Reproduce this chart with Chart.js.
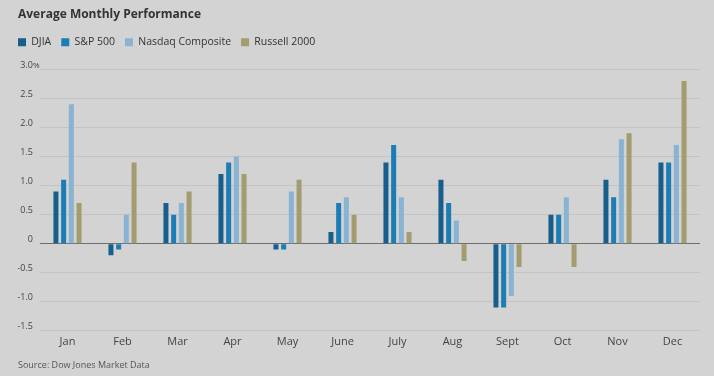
<!DOCTYPE html>
<html>
<head>
<meta charset="utf-8">
<script src="https://cdn.jsdelivr.net/npm/chart.js@4.4.1/dist/chart.umd.min.js"></script>
<style>
  html, body { margin: 0; padding: 0; background: #d3d3d3; }
  #wrap { width: 714px; height: 376px; }
</style>
</head>
<body>
<div id="wrap"><canvas id="perfChart" width="714" height="376"></canvas></div>
<script>
const months = ['Jan', 'Feb', 'Mar', 'Apr', 'May', 'June', 'July', 'Aug', 'Sept', 'Oct', 'Nov', 'Dec'];
const djia    = [0.9, -0.2, 0.7, 1.2, -0.1, 0.2, 1.4, 1.1, -1.1, 0.5, 1.1, 1.4];
const sp500   = [1.1, -0.1, 0.5, 1.4, -0.1, 0.7, 1.7, 0.7, -1.1, 0.5, 0.8, 1.4];
const nasdaq  = [2.4, 0.5, 0.7, 1.5, 0.9, 0.8, 0.8, 0.4, -0.9, 0.8, 1.8, 1.7];
const russell = [0.7, 1.4, 0.9, 1.2, 1.1, 0.5, 0.2, -0.3, -0.4, -0.4, 1.9, 2.8];

const fontFam = "'Open Sans', 'Noto Sans', sans-serif";

// title, source line and the hanging % on the top tick
const extraText = {
    id: 'extraText',
    beforeInit(chart) {
        // push the plot down a bit below the legend
        const fit = chart.legend.fit;
        chart.legend.fit = function () {
            fit.call(this);
            this.height += 12;
        };
    },
    afterDraw(chart) {
        const c = chart.ctx;
        const y = chart.scales.y;
        c.save();
        c.textBaseline = 'middle';
        c.fillStyle = '#333';
        c.font = 'bold 12px ' + fontFam;
        c.fillText('Average Monthly Performance', 18, 15);
        c.font = '9px ' + fontFam;
        c.fillStyle = '#555';
        c.fillText('Source: Dow Jones Market Data', 18, 365);
        c.fillStyle = '#444';
        c.font = '8px ' + fontFam;
        c.fillText('%', 33, y.getPixelForValue(3) - 4);
        c.restore();
    }
};

const ctx = document.getElementById('perfChart').getContext('2d');

new Chart(ctx, {
    type: 'bar',
    data: {
        labels: months,
        datasets: [
            { label: 'DJIA', data: djia, backgroundColor: '#175e8c' },
            { label: 'S&P 500', data: sp500, backgroundColor: '#1b7db5' },
            { label: 'Nasdaq Composite', data: nasdaq, backgroundColor: '#89b3d3' },
            { label: 'Russell 2000', data: russell, backgroundColor: '#a29c6e' }
        ]
    },
    options: {
        responsive: false,
        animation: false,
        categoryPercentage: 0.56,
        barPercentage: 0.65,
        layout: { padding: { left: 8, right: 14, top: 27, bottom: 24 } },
        plugins: {
            title: { display: false },
            legend: {
                align: 'start',
                labels: {
                    boxWidth: 8,
                    boxHeight: 8,
                    padding: 10,
                    color: '#333',
                    font: { family: fontFam, size: 10.5 }
                }
            },
            tooltip: { enabled: false }
        },
        scales: {
            x: {
                grid: { display: false, drawTicks: false },
                border: { display: false },
                ticks: { color: '#444', font: { family: fontFam, size: 11 }, padding: 4 }
            },
            y: {
                min: -1.5,
                max: 3.0,
                border: { display: false },
                afterFit(scale) { scale.width = 32; },
                grid: {
                    drawTicks: false,
                    color: (c) => c.tick && c.tick.value === 0 ? '#6e6e6e' : '#c3c3c3',
                    lineWidth: 1
                },
                ticks: {
                    stepSize: 0.5,
                    padding: 7,
                    labelOffset: -4,
                    color: '#444',
                    font: { family: fontFam, size: 9 },
                    callback: (v) => v === 0 ? '0' : v.toFixed(1)
                }
            }
        }
    },
    plugins: [extraText]
});
</script>
</body>
</html>
